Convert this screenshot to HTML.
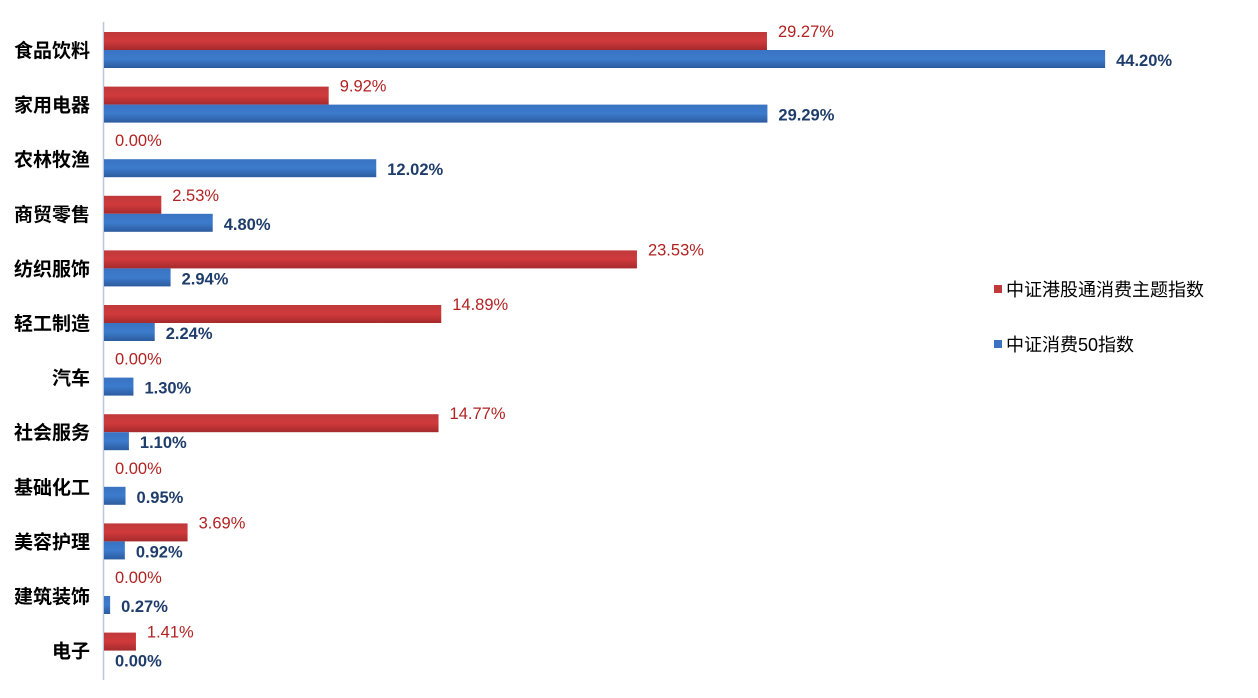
<!DOCTYPE html>
<html><head><meta charset="utf-8"><style>body{margin:0;background:#fff}</style></head><body>
<svg width="1258" height="693" xmlns="http://www.w3.org/2000/svg" font-family="Liberation Sans, Noto Sans CJK SC, sans-serif">
<defs>
<linearGradient id="r" x1="0" y1="0" x2="0" y2="1"><stop offset="0" stop-color="#c0393b"/><stop offset="0.5" stop-color="#d03a3c"/><stop offset="1" stop-color="#a52a2c"/></linearGradient>
<linearGradient id="b" x1="0" y1="0" x2="0" y2="1"><stop offset="0" stop-color="#3a73c2"/><stop offset="0.5" stop-color="#3c7bcc"/><stop offset="1" stop-color="#2c5b9e"/></linearGradient>
</defs>
<line x1="103.5" y1="22" x2="103.5" y2="680" stroke="#b8c8dc" stroke-width="1.5"/>
<g id="g"></g>
<rect x="994" y="285" width="8" height="8" fill="#c0393b"/>
<text x="1006" y="296" font-size="18" fill="#000">中证港股通消费主题指数</text>
<rect x="994" y="340" width="8" height="8" fill="#3a73c2"/>
<text x="1006" y="351" font-size="18" fill="#000">中证消费50指数</text>
</svg>
<script>
var d=[["食品饮料",29.27,44.20],["家用电器",9.92,29.29],["农林牧渔",0,12.02],["商贸零售",2.53,4.80],["纺织服饰",23.53,2.94],["轻工制造",14.89,2.24],["汽车",0,1.30],["社会服务",14.77,1.10],["基础化工",0,0.95],["美容护理",3.69,0.92],["建筑装饰",0,0.27],["电子",1.41,0]];
var s="",k=22.65;
d.forEach(function(r,i){var c=50+i*54.6;var wr=r[1]*k,wb=r[2]*k;
s+='<text x="90" y="'+(c+7)+'" text-anchor="end" font-size="19" font-weight="bold">'+r[0]+'</text>';
if(wr>0)s+='<rect x="104" y="'+(c-18)+'" width="'+wr+'" height="18" fill="url(#r)"/>';
if(wb>0)s+='<rect x="104" y="'+c+'" width="'+wb+'" height="18" fill="url(#b)"/>';
s+='<text x="'+(104+wr+11)+'" y="'+(c-13)+'" font-size="16.5" fill="#b22222">'+r[1].toFixed(2)+'%</text>';
s+='<text x="'+(104+wb+11)+'" y="'+(c+16)+'" font-size="16.5" font-weight="bold" fill="#1f3d6b">'+r[2].toFixed(2)+'%</text>';});
document.getElementById("g").innerHTML=s;
</script>
</body></html>
